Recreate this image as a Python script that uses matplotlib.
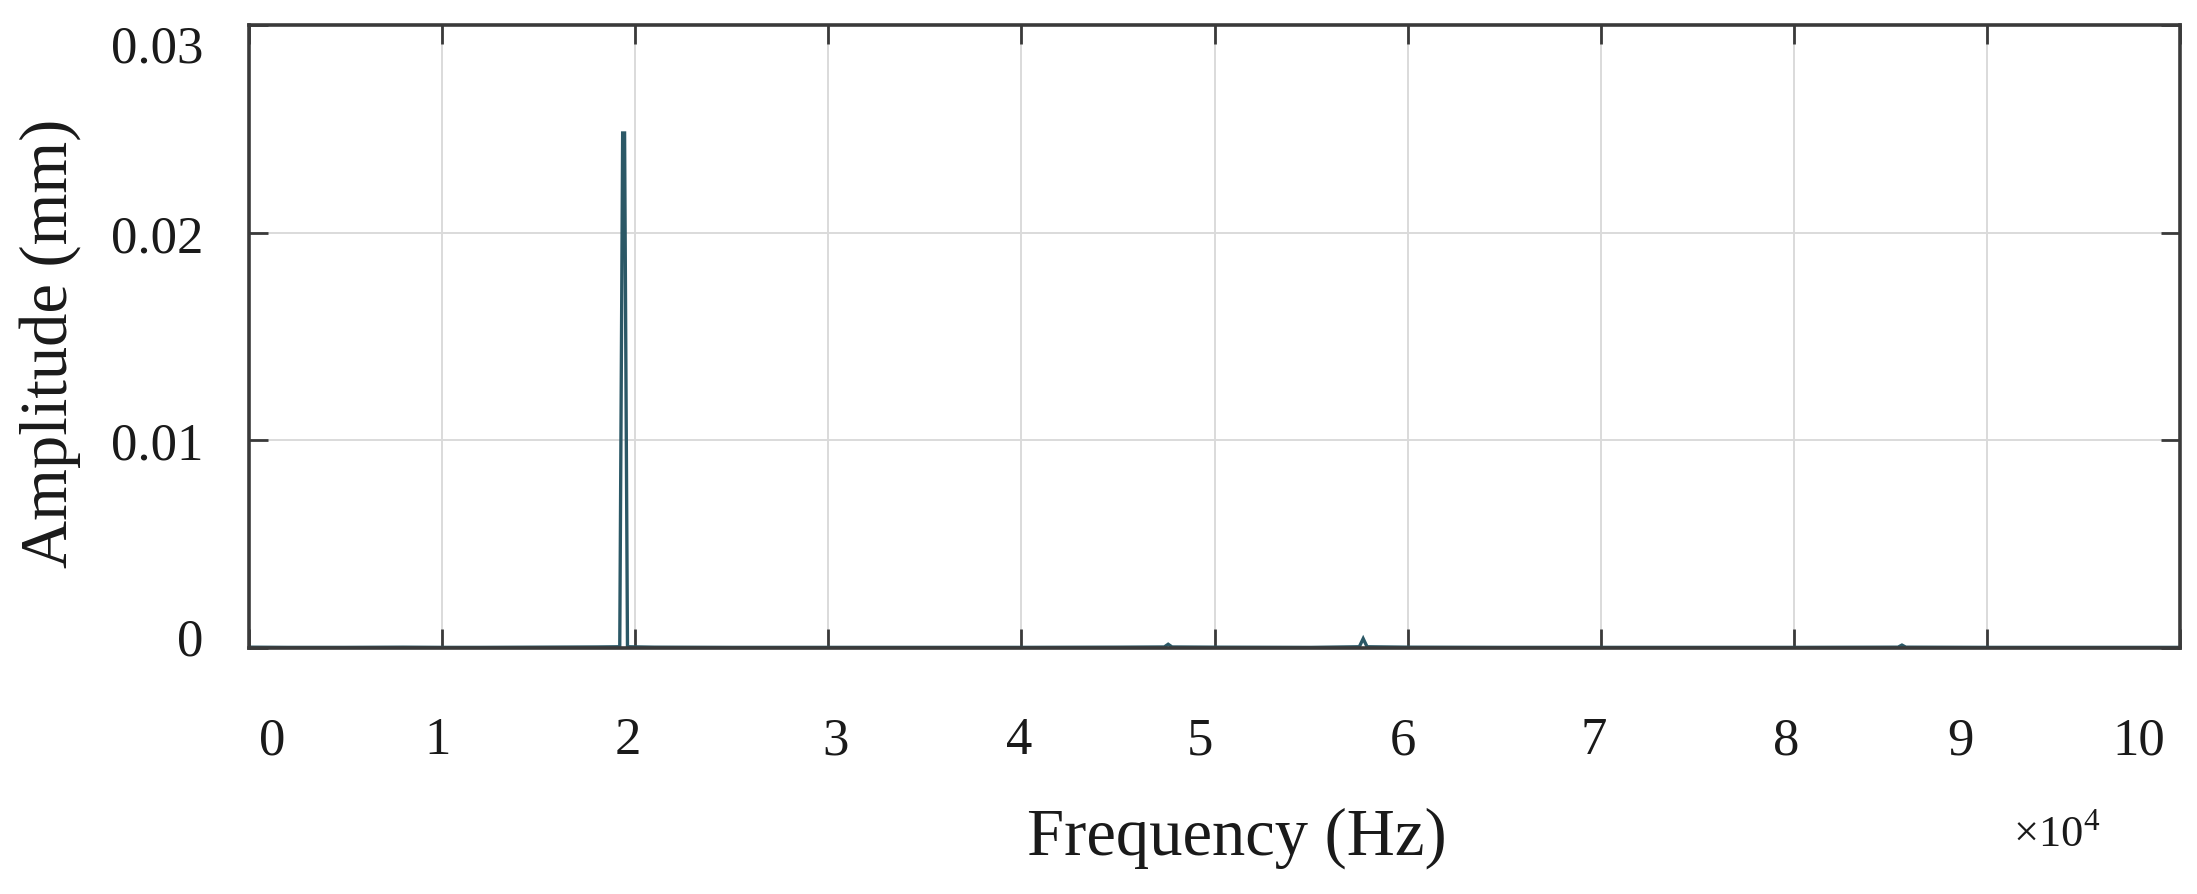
import matplotlib
matplotlib.use("Agg")
import matplotlib.pyplot as plt
from matplotlib.transforms import ScaledTranslation

# ---- data ----
freq_hz = [0, 2000, 5000, 8000, 10000, 12000, 15000, 18000, 19200, 19350, 19450,
           19600, 21000, 25000, 30000, 35000, 40000, 45000, 47400, 47600, 47800,
           50000, 55000, 57500, 57700, 57900, 60000, 65000, 70000, 75000, 80000,
           85400, 85600, 85800, 90000, 95000, 100000]
amplitude_mm = [0.00004, 0.00003, 0.00003, 0.00004, 0.00003, 0.00003, 0.00004, 0.00005,
                0.00006, 0.0248, 0.0248, 0.00006, 0.00004, 0.00003, 0.00003, 0.00003,
                0.00003, 0.00004, 0.00005, 0.00018, 0.00005, 0.00004, 0.00003, 0.00006,
                0.00045, 0.00006, 0.00004, 0.00003, 0.00003, 0.00003, 0.00003, 0.00004,
                0.00014, 0.00004, 0.00003, 0.00003, 0.00003]
x_ticks = [0, 1, 2, 3, 4, 5, 6, 7, 8, 9, 10]
x_ticklabels = ["0", "1", "2", "3", "4", "5", "6", "7", "8", "9", "10"]
y_ticks = [0, 0.01, 0.02, 0.03]
y_ticklabels = ["0", "0.01", "0.02", "0.03"]
x_label = "Frequency (Hz)"
y_label = "Amplitude (mm)"
x_scale_note = "×10$^4$"

# style: small pixel shifts of tick labels as seen in the picture
x_label_dx = [23, -5, -7, 7, -2, -15, -5, -7, -8, -26, -41]
y_label_dy = [12, 0, 0, -18]

plt.rcParams['font.family'] = ['Liberation Serif', 'DejaVu Serif']
plt.rcParams['mathtext.fontset'] = 'custom'
plt.rcParams['mathtext.rm'] = 'Liberation Serif'

W, H, DPI = 2197, 895, 100
fig = plt.figure(figsize=(W / DPI, H / DPI), dpi=DPI)
ax = fig.add_axes([249 / W, 1 - 649 / H, (2180 - 249) / W, (649 - 26) / H])

x_vals = [f / 1e4 for f in freq_hz]
ax.plot(x_vals, amplitude_mm, color="#2b5866", lw=2.4, zorder=3, solid_joinstyle='miter')

ax.set_xlim(0, 10)
ax.set_ylim(0, 0.03)
ax.set_xticks(x_ticks)
ax.set_xticklabels(x_ticklabels)
ax.set_yticks(y_ticks)
ax.set_yticklabels(y_ticklabels)

ax.grid(True, color="#dadada", lw=1.4, zorder=0)
for s in ax.spines.values():
    s.set_color("#3a3a3a")
    s.set_linewidth(2.6)
    s.set_zorder(4)

ax.tick_params(axis='both', direction='in', length=14, width=2.0, color="#3a3a3a",
               top=True, right=True, labelsize=38, labelcolor="#1a1a1a")
ax.tick_params(axis='x', pad=49)
ax.tick_params(axis='y', pad=33)

fig.canvas.draw()
for lab, dx in zip(ax.get_xticklabels(), x_label_dx):
    lab.set_transform(lab.get_transform() + ScaledTranslation(dx / DPI, 0, fig.dpi_scale_trans))
for lab, dy in zip(ax.get_yticklabels(), y_label_dy):
    lab.set_transform(lab.get_transform() + ScaledTranslation(0, dy / DPI, fig.dpi_scale_trans))

fig.text(1237 / W, 1 - 855 / H, x_label, ha='center', va='baseline', fontsize=48, color="#1a1a1a")
fig.text(50 / W, 1 - 343 / H, y_label, ha='center', va='center', rotation=90,
         fontsize=48, color="#1a1a1a")
fig.text(2057 / W, 1 - 847 / H, x_scale_note, ha='center', va='baseline', fontsize=32,
         color="#1a1a1a")

fig.savefig("out.png", dpi=DPI, facecolor="white")
